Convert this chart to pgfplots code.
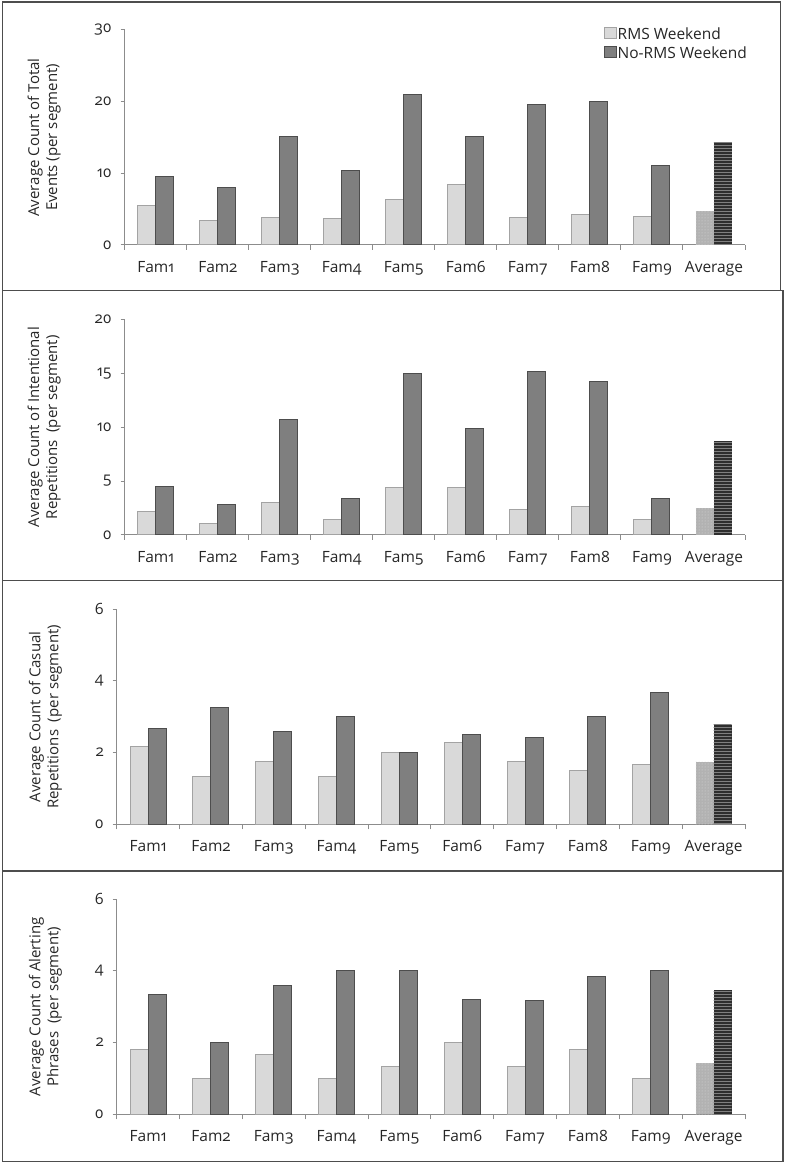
\documentclass[border=0pt]{standalone}
\usepackage{pgfplots}
\pgfplotsset{compat=1.18}
\usepackage{pgfplotstable}
\usepackage{fontspec}
\setmainfont{Open Sans}[Numbers=OldStyle]
\usetikzlibrary{patterns}

\definecolor{lightbar}{HTML}{D9D9D9}
\definecolor{lightedge}{HTML}{A3A3A3}
\definecolor{darkbar}{HTML}{7F7F7F}
\definecolor{darkedge}{HTML}{4D4D4D}
\definecolor{axisgray}{HTML}{8C8C8C}
\definecolor{framegray}{HTML}{4D4D4D}
\definecolor{avglight}{HTML}{B2B2B2}
\definecolor{avgdark}{HTML}{2E2E2E}

% x = category centre, light = RMS weekend, dark = No-RMS weekend
\pgfplotstableread{
x    light dark
0.5  5.5   9.6
1.5  3.4   8.0
2.5  3.9   15.2
3.5  3.7   10.4
4.5  6.3   21.0
5.5  8.4   15.1
6.5  3.9   19.6
7.5  4.3   20.0
8.5  4.0   11.1
}\totalevents

\pgfplotstableread{
x    light dark
0.5  2.2   4.5
1.5  1.1   2.8
2.5  3.0   10.7
3.5  1.4   3.4
4.5  4.4   15.0
5.5  4.4   9.9
6.5  2.4   15.2
7.5  2.6   14.2
8.5  1.4   3.4
}\intentional

\pgfplotstableread{
x    light dark
0.5  2.17  2.67
1.5  1.33  3.25
2.5  1.75  2.60
3.5  1.33  3.00
4.5  2.00  2.00
5.5  2.29  2.50
6.5  1.75  2.42
7.5  1.50  3.00
8.5  1.67  3.67
}\casual

\pgfplotstableread{
x    light dark
0.5  1.80  3.33
1.5  1.00  2.00
2.5  1.67  3.60
3.5  1.00  4.00
4.5  1.33  4.00
5.5  2.00  3.20
6.5  1.33  3.17
7.5  1.80  3.85
8.5  1.00  4.00
}\alerting

\pgfplotsset{
  famaxis/.style={
    scale only axis,
    ybar, bar width=18pt,
    xmin=0, xmax=10, ymin=0,
    axis lines=left,
    axis line style={draw=axisgray, line width=1pt, -},
    tick align=outside,
    xtick={0.5,1.5,...,9.5},
    xticklabels={Fam1,Fam2,Fam3,Fam4,Fam5,Fam6,Fam7,Fam8,Fam9,Average},
    major x tick style={draw=none},
    minor xtick={0,1,...,10},
    minor tick length=5pt,
    major tick length=4pt,
    minor x tick style={draw=axisgray, line width=1pt},
    major y tick style={draw=axisgray, line width=1pt},
    tick label style={font=\fontsize{15.5}{18}\selectfont, text=black!85},
    xticklabel style={anchor=base, yshift=-23.5pt},
    yticklabel style={xshift=-5.5pt},
    /pgf/number format/assume math mode=true,
    ylabel style={at={(axis description cs:#1,0.5)}, anchor=center, align=center,
      font=\fontsize{15}{18}\selectfont, text=black!85},
  },
  rmsbar/.style={fill=lightbar, draw=lightedge, line width=1pt, bar shift=-9pt},
  norms/.style={fill=darkbar, draw=darkedge, line width=1pt, bar shift=9pt},
  rmsavg/.style={fill=avglight, draw=none, bar shift=-9pt, forget plot,
    postaction={pattern=dots, pattern color=white!85!black}},
  normsavg/.style={fill=avgdark, draw=none, bar shift=9pt, forget plot,
    postaction={pattern=horizontal lines, pattern color=gray}},
  sqlegend/.style={legend image code/.code={
    \draw[##1] (1.5pt,-5.5pt) rectangle (13.5pt,5.5pt);}},
}

\begin{document}
\begin{tikzpicture}
\path (0pt,0pt) rectangle (787pt,1163pt);
% panel frames
\draw[framegray, line width=1.3pt] (2.5pt,1161pt) rectangle (780.5pt,872.5pt);
\draw[framegray, line width=1.3pt] (2.5pt,872.5pt) rectangle (783pt,582.5pt);
\draw[framegray, line width=1.3pt] (2.5pt,582.5pt) rectangle (783pt,292pt);
\draw[framegray, line width=1.3pt] (2.5pt,292pt) rectangle (783pt,1.5pt);

% total events
\begin{axis}[famaxis=-0.1298, at={(124.7pt,918pt)}, width=620.3pt, height=215pt,
  ymax=30, ytick={0,10,20,30},
  ylabel={Average Count of Total\\Events (per segment)},
  legend style={at={(axis description cs:1.0032,1.013)}, anchor=north east,
    draw=none, fill=none, inner sep=0pt, font=\fontsize{15.5}{18}\selectfont,
    text=black!85, row sep=7pt, cells={anchor=west},
    nodes={inner sep=0pt, text height=12pt, text depth=0pt},
    /tikz/every odd column/.style={column sep=1pt}},
]
\addplot[rmsbar, sqlegend] table[x=x, y=light] {\totalevents};
\addlegendentry{RMS Weekend}
\addplot[norms, sqlegend] table[x=x, y=dark] {\totalevents};
\addlegendentry{No-RMS Weekend}
\addplot[rmsavg] coordinates {(9.5,4.7)};
\addplot[normsavg] coordinates {(9.5,14.3)};
\end{axis}

% intentional repetitions
\begin{axis}[famaxis=-0.1298, at={(124.7pt,628pt)}, width=620.3pt, height=215.5pt,
  ymax=20, ytick={0,5,10,15,20},
  ylabel={Average Count of Intentional\\Repetitions~\ (per segment)},
]
\addplot[rmsbar] table[x=x, y=light] {\intentional};
\addplot[norms] table[x=x, y=dark] {\intentional};
\addplot[rmsavg] coordinates {(9.5,2.5)};
\addplot[normsavg] coordinates {(9.5,8.7)};
\end{axis}

% casual repetitions
\begin{axis}[famaxis=-0.1133, at={(116.7pt,338.7pt)}, width=628.3pt, height=215pt,
  ymax=6, ytick={0,2,4,6},
  ylabel={Average Count of Casual\\Repetitions~\ (per segment)},
]
\addplot[rmsbar] table[x=x, y=light] {\casual};
\addplot[norms] table[x=x, y=dark] {\casual};
\addplot[rmsavg] coordinates {(9.5,1.74)};
\addplot[normsavg] coordinates {(9.5,2.78)};
\end{axis}

% alerting phrases
\begin{axis}[famaxis=-0.1133, at={(116.7pt,48.7pt)}, width=628.3pt, height=215pt,
  ymax=6, ytick={0,2,4,6},
  ylabel={Average Count of Alerting\\Phrases~\ (per segment)},
]
\addplot[rmsbar] table[x=x, y=light] {\alerting};
\addplot[norms] table[x=x, y=dark] {\alerting};
\addplot[rmsavg] coordinates {(9.5,1.44)};
\addplot[normsavg] coordinates {(9.5,3.46)};
\end{axis}
\end{tikzpicture}
\end{document}
